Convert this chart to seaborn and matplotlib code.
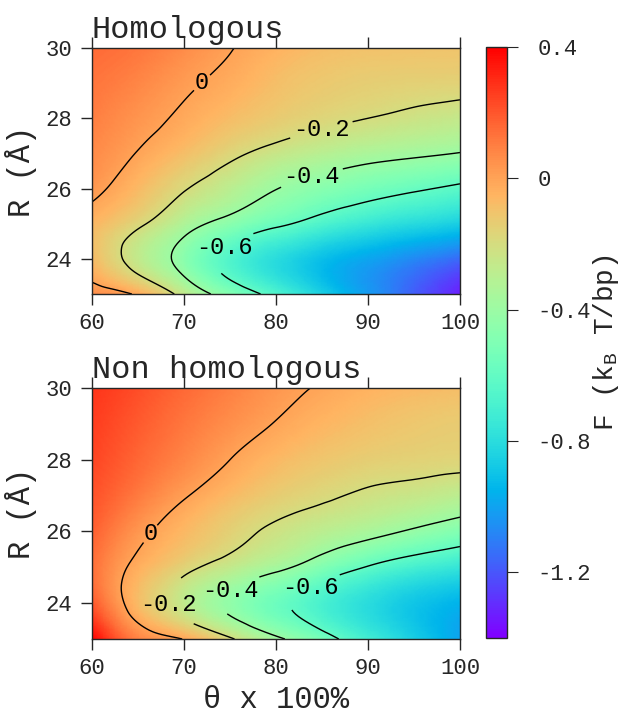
import numpy as np
import matplotlib
matplotlib.use("Agg")
import matplotlib.pyplot as plt
import matplotlib.tri as mtri
import seaborn as sns

# grid: theta (x 100%) and R (Angstrom)
theta = [60, 65, 70, 75, 80, 85, 90, 95, 100]
radius = [23, 24, 25, 26, 27, 28, 29, 30]

# F (kB T/bp), one row per R value (23 -> 30)
F_homologous = [
    [0.06, -0.02, -0.26, -0.48, -0.66, -0.85, -1.02, -1.18, -1.33],
    [-0.07, -0.265, -0.46, -0.66, -0.80, -0.91, -0.99, -1.07, -1.15],
    [-0.06, -0.175, -0.33, -0.46, -0.57, -0.67, -0.75, -0.81, -0.86],
    [0.03, -0.07, -0.19, -0.29, -0.396, -0.47, -0.53, -0.58, -0.63],
    [0.07, -0.005, -0.085, -0.17, -0.245, -0.30, -0.345, -0.375, -0.405],
    [0.10, 0.04, -0.02, -0.08, -0.13, -0.17, -0.20, -0.23, -0.26],
    [0.125, 0.08, 0.02, -0.03, -0.085, -0.12, -0.14, -0.15, -0.155],
    [0.15, 0.12, 0.065, 0.005, -0.045, -0.08, -0.095, -0.10, -0.105],
]
F_non_homologous = [
    [0.40, 0.09, -0.005, -0.18, -0.37, -0.53, -0.71, -0.86, -1.00],
    [0.20, -0.075, -0.27, -0.435, -0.565, -0.69, -0.80, -0.89, -0.95],
    [0.14, -0.035, -0.16, -0.265, -0.365, -0.49, -0.61, -0.70, -0.76],
    [0.18, 0.035, -0.065, -0.15, -0.225, -0.29, -0.35, -0.42, -0.49],
    [0.21, 0.11, 0.01, -0.07, -0.135, -0.18, -0.22, -0.25, -0.29],
    [0.24, 0.16, 0.08, 0.00, -0.065, -0.11, -0.14, -0.155, -0.165],
    [0.26, 0.19, 0.12, 0.055, -0.005, -0.055, -0.09, -0.115, -0.13],
    [0.28, 0.22, 0.155, 0.095, 0.035, -0.01, -0.045, -0.065, -0.08],
]

contour_levels = [-0.6, -0.4, -0.2, 0.0]
cbar_ticks = [0.4, 0.0, -0.4, -0.8, -1.2]
cbar_ticklabels = ['0.4', '0', '-0.4', '-0.8', '-1.2']
x_ticks = [60, 70, 80, 90, 100]
y_ticks = [24, 26, 28, 30]

# where the contour labels sit
labels_homologous = [(72, 29.0), (85, 27.6), (84, 26.2), (75, 24.1)]
labels_non_homologous = [(66.5, 25.9), (68.8, 24.0), (75.4, 24.2), (83.9, 24.35)]

sns.set_style("ticks")
plt.rcParams['font.family'] = ['Liberation Mono', 'DejaVu Sans']
plt.rcParams['mathtext.fontset'] = 'custom'
plt.rcParams['mathtext.rm'] = 'Liberation Mono'
plt.rcParams['contour.negative_linestyle'] = 'solid'
cmap = sns.color_palette("rainbow", as_cmap=True)

W, H = 627, 722
fig = plt.figure(figsize=(W / 100, H / 100), dpi=100)
ax_top = fig.add_axes([92 / W, 1 - 294 / H, 368 / W, 246 / H])
ax_bot = fig.add_axes([92 / W, 1 - 639 / H, 368 / W, 251 / H])
cax = fig.add_axes([486 / W, 1 - 638 / H, 21 / W, 591 / H])


def fmt(v):
    return '0' if abs(v) < 1e-9 else f'{v:.1f}'


def smooth_mesh(F):
    # cubic refinement done on the index grid (square cells), then mapped back to theta / R
    I, J = np.meshgrid(np.arange(len(theta)), np.arange(len(radius)))
    z = np.array(F).ravel()
    tri = mtri.Triangulation(I.ravel(), J.ravel())
    interp = mtri.CubicTriInterpolator(tri, z, kind='min_E')
    tri_f, z_f = mtri.UniformTriRefiner(tri).refine_field(z, triinterpolator=interp, subdiv=4)
    x = np.interp(tri_f.x, np.arange(len(theta)), theta)
    y = np.interp(tri_f.y, np.arange(len(radius)), radius)
    return mtri.Triangulation(x, y, tri_f.triangles), z_f


def panel(ax, F, title, label_pos):
    tri_f, z_f = smooth_mesh(F)
    im = ax.tripcolor(tri_f, z_f, shading='gouraud', cmap=cmap, vmin=-1.4, vmax=0.4)
    cs = ax.tricontour(tri_f, z_f, levels=contour_levels, colors='k', linewidths=1, linestyles='solid')
    texts = ax.clabel(cs, fmt=fmt, manual=label_pos, inline=True, inline_spacing=4, fontsize=17)
    for t in texts:
        t.set_rotation(0)
    ax.set_xlim(60, 100)
    ax.set_ylim(23, 30)
    ax.set_xticks(x_ticks)
    ax.set_yticks(y_ticks)
    ax.tick_params(top=True, right=False, direction='out', length=8, width=1, labelsize=16, pad=6)
    ax.set_ylabel('R (Å)', fontsize=22, labelpad=6)
    ax.set_title(title, loc='left', fontsize=23, pad=7)
    for s in ax.spines.values():
        s.set_linewidth(1)
    return im


im = panel(ax_top, F_homologous, 'Homologous', labels_homologous)
panel(ax_bot, F_non_homologous, 'Non homologous', labels_non_homologous)
ax_bot.set_xlabel('θ x 100%', fontsize=22, labelpad=4)

cb = fig.colorbar(im, cax=cax, ticks=cbar_ticks)
cb.ax.set_yticklabels(cbar_ticklabels)
cb.ax.tick_params(direction='out', length=8, labelsize=16, pad=14)
cb.outline.set_linewidth(1)
cb.set_label(r'F (k$_\mathregular{B}$ T/bp)', fontsize=20, labelpad=0)

fig.savefig('out.png', dpi=100)
